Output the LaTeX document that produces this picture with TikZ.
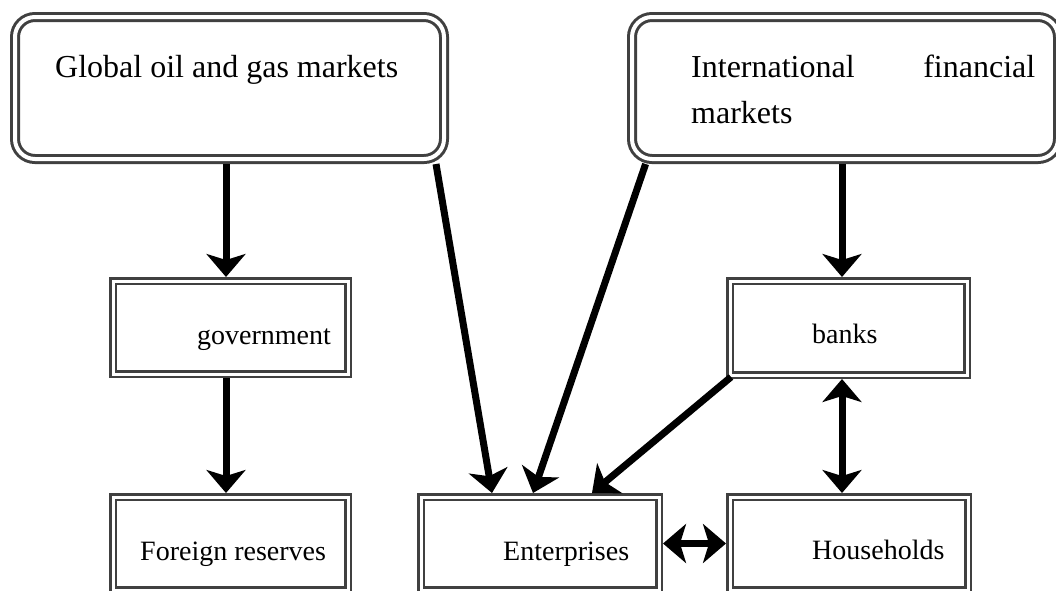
\documentclass[tikz,border=0pt]{standalone}
\usepackage{fontspec}
\setmainfont{Liberation Serif}
\usetikzlibrary{arrows.meta}
\begin{document}
\begin{tikzpicture}[x=1pt,y=-1pt,
  >={Stealth[length=23pt,width=39pt,inset=6pt]},
  bigbox/.style={draw=black!75, double=white, line width=3pt, double distance=4pt,
    rounded corners=20pt, fill=white, outer sep=5pt, inner sep=0pt},
  smallbox/.style={draw=black!75, double=white, line width=2.5pt, double distance=3pt,
    fill=white, outer sep=4pt, inner sep=0pt},
  bigtext/.style={anchor=base west, inner sep=0pt, font=\fontsize{32}{46}\selectfont},
  smalltext/.style={anchor=base west, inner sep=0pt, font=\fontsize{28}{34}\selectfont},
  arr/.style={line width=7pt, ->},
  darr/.style={line width=7pt, <->}]
\useasboundingbox (0,0) rectangle (1056,590);
\clip (0,0) rectangle (1056,590);
% boxes
\node[bigbox, minimum width=429pt, minimum height=142pt] (glob) at (229.5,88) {};
\node[bigbox, minimum width=426pt, minimum height=142pt] (intl) at (845,88) {};
\node[smallbox, minimum width=235pt, minimum height=93pt] (gov) at (230.5,327.5) {};
\node[smallbox, minimum width=235pt, minimum height=93pt] (res) at (230.5,543.5) {};
\node[smallbox, minimum width=238pt, minimum height=93pt] (ent) at (540,543.5) {};
\node[smallbox, minimum width=238pt, minimum height=93pt] (hh) at (849,543.5) {};
\node[smallbox, minimum width=237pt, minimum height=94pt] (banks) at (848.5,328) {};
% texts
\node[bigtext] (tglob) at (55,77) {Global oil and gas markets};
\node[bigtext] (tintl) at (691,77) {\parbox[t]{344pt}{\fontsize{32}{46}\selectfont International\hfill financial\\markets}};
\node[smalltext] (tgov) at (197,344) {government};
\node[smalltext] (tres) at (140,560) {Foreign reserves};
\node[smalltext] (tent) at (503,560) {Enterprises};
\node[smalltext] (thh) at (812,559) {Households};
\node[smalltext] (tbanks) at (812,343) {banks};
% connectors
\draw[arr] ([xshift=-3.5pt]glob.south) -- ([xshift=-4.5pt]gov.north);
\draw[arr] ([xshift=-4.5pt]gov.south) -- ([xshift=-4.5pt]res.north);
\draw[arr] ([xshift=-3pt]intl.south) -- ([xshift=-6.5pt]banks.north);
\draw[darr] ([xshift=-6.5pt]banks.south) -- ([xshift=-7pt]hh.north);
\draw[darr] (ent.east) -- (hh.west);
\draw[arr] ([xshift=206.5pt]glob.south) -- ([xshift=-48pt]ent.north);
\draw[arr] ([xshift=-199.4pt]intl.south) -- ([xshift=-7pt]ent.north);
\draw[arr] ([xshift=5pt,yshift=2pt]banks.south west) -- ([xshift=52pt]ent.north);
\end{tikzpicture}
\end{document}
